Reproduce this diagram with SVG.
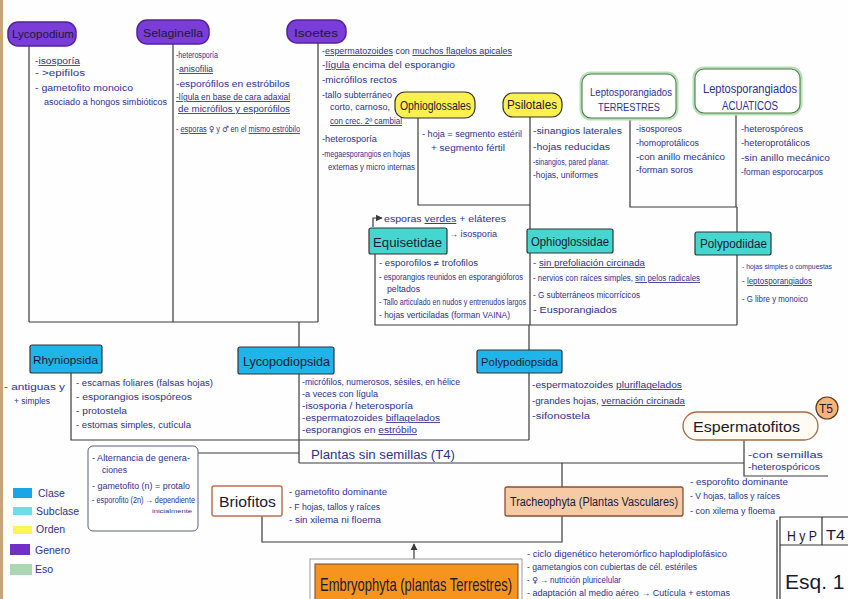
<svg xmlns="http://www.w3.org/2000/svg" width="848" height="599" viewBox="0 0 848 599">
<style>
.ink{font-family:"Liberation Sans",Arial,sans-serif;font-size:8.5px;fill:#2d3190}
.lab{font-family:"Liberation Sans",Arial,sans-serif;fill:#1a1a33}
.sym{font-family:"DejaVu Sans",sans-serif}
.u{text-decoration:underline}
.ln{stroke:#3a3a3a;stroke-width:1.2;fill:none}
.gen{fill:#7b3dd8;stroke:#55229e;stroke-width:1.5}
.ord{fill:#fbf04e;stroke:#333;stroke-width:1.2}
.cls{fill:#1fb4ea;stroke:#333;stroke-width:1.2}
.sub{fill:#46d6d0;stroke:#333;stroke-width:1.2}
.eso{fill:#fff;stroke:#4f7f4f;stroke-width:1.1}
.glow{fill:none;stroke:#b5dfb5;stroke-width:5}
</style>
<defs>
<marker id="ah" viewBox="0 0 10 10" refX="9" refY="5" markerWidth="6" markerHeight="6" orient="auto-start-reverse">
<path d="M0,0 L10,5 L0,10 z" fill="#3a3a3a"/>
</marker>
</defs>
<rect width="848" height="599" fill="#fefefe"/>
<rect x="0" y="0" width="3" height="599" fill="#c9a27a"/>

<g id="connectors" class="ln">
<path d="M29,46 V322 M173,44 V322 M318,43 V322 M29,322 H318 M299,322 V347"/>
<path d="M299,374 V463"/>
<path d="M71,373 V440 H529 M529,325 V350 M529,373 V440"/>
<path d="M375,254 V325 H737 M530,117 V229 M530,253 V325"/>
<path d="M418,118 V205 H530"/>
<path d="M737,207 V232 M737,255 V325 M630,118 V207 H737 M736,113 V207"/>
<path d="M198,453 H299 M299,463 H744"/>
<path d="M744,440 V476 H828"/>
<path d="M562,463 V487 M562,516 V542 H262 V516"/>
<path d="M414,562 V544" marker-end="url(#ah)"/>
<path d="M373,227 V218 H382" marker-end="url(#ah)"/>
</g>

<g id="lycopodium">
<rect class="gen" x="8" y="22" width="68" height="24" rx="10"/>
<text class="lab" x="12" y="38" font-size="11" textLength="62" lengthAdjust="spacingAndGlyphs">Lycopodium</text>
<text class="ink" x="35" y="64" textLength="45" lengthAdjust="spacingAndGlyphs">-<tspan class="u">isosporía</tspan></text>
<text class="ink" x="35" y="76" textLength="50" lengthAdjust="spacingAndGlyphs">- &gt;epifilos</text>
<text class="ink" x="35" y="91" textLength="98" lengthAdjust="spacingAndGlyphs">- gametofito   monoico</text>
<text class="ink" x="44" y="105" textLength="123" lengthAdjust="spacingAndGlyphs">asociado a hongos simbióticos</text>
</g>

<g id="selaginella">
<rect class="gen" x="137" y="20" width="72" height="24" rx="10"/>
<text class="lab" x="143" y="37" font-size="11" textLength="60" lengthAdjust="spacingAndGlyphs">Selaginella</text>
<text class="ink" x="176" y="58" textLength="42" lengthAdjust="spacingAndGlyphs">-heterosporía</text>
<text class="ink" x="176" y="72" textLength="37" lengthAdjust="spacingAndGlyphs">-<tspan class="u">anisofilia</tspan></text>
<text class="ink" x="176" y="87" textLength="114" lengthAdjust="spacingAndGlyphs">-esporófilos en estróbilos</text>
<text class="ink u" x="176" y="100" textLength="114" lengthAdjust="spacingAndGlyphs">-lígula en base de cara adaxial</text>
<text class="ink u" x="178" y="112" textLength="112" lengthAdjust="spacingAndGlyphs">de micrófilos y esporófilos</text>
<text class="ink" x="176" y="132" textLength="124" lengthAdjust="spacingAndGlyphs">- <tspan class="u">esporas</tspan> <tspan class="sym">♀︎</tspan> y <tspan class="sym">♂︎</tspan> en el <tspan class="u">mismo estróbilo</tspan></text>
</g>

<g id="isoetes">
<rect class="gen" x="287" y="20" width="59" height="23" rx="10"/>
<text class="lab" x="294" y="37" font-size="11" textLength="44" lengthAdjust="spacingAndGlyphs">Isoetes</text>
<text class="ink" x="322" y="54" textLength="190" lengthAdjust="spacingAndGlyphs">-<tspan class="u">espermatozoides</tspan>  con  <tspan class="u">muchos flagelos apicales</tspan></text>
<text class="ink" x="322" y="68" textLength="133" lengthAdjust="spacingAndGlyphs">-<tspan class="u">lígula</tspan> encima del esporangio</text>
<text class="ink" x="322" y="83" textLength="75" lengthAdjust="spacingAndGlyphs">-micrófilos rectos</text>
<text class="ink" x="322" y="98" textLength="70" lengthAdjust="spacingAndGlyphs">-tallo subterráneo</text>
<text class="ink" x="330" y="110" textLength="60" lengthAdjust="spacingAndGlyphs">corto, carnoso,</text>
<text class="ink u" x="330" y="124" textLength="72" lengthAdjust="spacingAndGlyphs">con crec. 2º cambial</text>
<text class="ink" x="322" y="142" textLength="55" lengthAdjust="spacingAndGlyphs">-heterosporía</text>
<text class="ink" x="322" y="157" textLength="88" lengthAdjust="spacingAndGlyphs">-megaesporangios en hojas</text>
<text class="ink" x="328" y="170" textLength="87" lengthAdjust="spacingAndGlyphs">externas y micro internas</text>
</g>

<g id="ophioglossales">
<rect class="ord" x="395" y="92" width="80" height="26" rx="10"/>
<text class="lab" x="400" y="110" font-size="13" textLength="71" lengthAdjust="spacingAndGlyphs">Ophioglossales</text>
<text class="ink" x="422" y="137" textLength="100" lengthAdjust="spacingAndGlyphs">- hoja = segmento estéril</text>
<text class="ink" x="431" y="151" textLength="74" lengthAdjust="spacingAndGlyphs">+ segmento fértil</text>
</g>

<g id="psilotales">
<rect class="ord" x="503" y="93" width="59" height="24" rx="10"/>
<text class="lab" x="507" y="109" font-size="13" textLength="50" lengthAdjust="spacingAndGlyphs">Psilotales</text>
<text class="ink" x="533" y="134" textLength="89" lengthAdjust="spacingAndGlyphs">-sinangios laterales</text>
<text class="ink" x="533" y="150" textLength="77" lengthAdjust="spacingAndGlyphs">-hojas reducidas</text>
<text class="ink" x="533" y="165" textLength="76" lengthAdjust="spacingAndGlyphs">-sinangios, pared planar.</text>
<text class="ink" x="533" y="178" textLength="65" lengthAdjust="spacingAndGlyphs">-hojas, uniformes</text>
</g>

<g id="lepto-terrestres">
<rect class="glow" x="582" y="74" width="94" height="44" rx="9"/>
<rect class="eso" x="582" y="74" width="94" height="44" rx="9"/>
<text class="ink" x="590" y="96" style="font-size:11px" textLength="82" lengthAdjust="spacingAndGlyphs">Leptosporangiados</text>
<text class="ink" x="598" y="111" style="font-size:11px" textLength="62" lengthAdjust="spacingAndGlyphs">TERRESTRES</text>
<text class="ink" x="636" y="132" textLength="46" lengthAdjust="spacingAndGlyphs">-isosporeos</text>
<text class="ink" x="636" y="146" textLength="63" lengthAdjust="spacingAndGlyphs">-homoprotálicos</text>
<text class="ink" x="636" y="160" textLength="89" lengthAdjust="spacingAndGlyphs">-con anillo mecánico</text>
<text class="ink" x="636" y="173" textLength="57" lengthAdjust="spacingAndGlyphs">-forman soros</text>
</g>

<g id="lepto-acuaticos">
<rect class="glow" x="695" y="69" width="105" height="44" rx="9"/>
<rect class="eso" x="695" y="69" width="105" height="44" rx="9"/>
<text class="ink" x="703" y="93" style="font-size:12px" textLength="94" lengthAdjust="spacingAndGlyphs">Leptosporangiados</text>
<text class="ink" x="722" y="110" style="font-size:12px" textLength="56" lengthAdjust="spacingAndGlyphs">ACUATICOS</text>
<text class="ink" x="741" y="132" textLength="62" lengthAdjust="spacingAndGlyphs">-heterospóreos</text>
<text class="ink" x="741" y="146" textLength="69" lengthAdjust="spacingAndGlyphs">-heteroprotálicos</text>
<text class="ink" x="741" y="161" textLength="89" lengthAdjust="spacingAndGlyphs">-sin anillo mecánico</text>
<text class="ink" x="741" y="175" textLength="82" lengthAdjust="spacingAndGlyphs">-forman esporocarpos</text>
</g>

<g id="equisetidae">
<rect class="sub" x="369" y="228" width="78" height="26" rx="2"/>
<text class="lab" x="373" y="247" font-size="13" textLength="69" lengthAdjust="spacingAndGlyphs">Equisetidae</text>
<text class="ink" x="384" y="222" style="font-size:9.5px" textLength="122" lengthAdjust="spacingAndGlyphs">esporas <tspan class="u">verdes</tspan> + eláteres</text>
<text class="ink" x="449" y="237" textLength="48" lengthAdjust="spacingAndGlyphs">→ isosporia</text>
<text class="ink" x="379" y="266" textLength="99" lengthAdjust="spacingAndGlyphs">- esporofilos ≠ trofofilos</text>
<text class="ink" x="379" y="280" textLength="144" lengthAdjust="spacingAndGlyphs">- esporangios reunidos en esporangióforos</text>
<text class="ink" x="387" y="292" textLength="33" lengthAdjust="spacingAndGlyphs">peltados</text>
<text class="ink" x="379" y="305" textLength="147" lengthAdjust="spacingAndGlyphs">- Tallo articulado en nudos y entrenudos largos</text>
<text class="ink" x="379" y="318" textLength="131" lengthAdjust="spacingAndGlyphs">- hojas verticiladas (forman VAINA)</text>
</g>

<g id="ophioglossidae">
<rect class="sub" x="527" y="229" width="86" height="24" rx="2"/>
<text class="lab" x="531" y="246" font-size="13" textLength="78" lengthAdjust="spacingAndGlyphs">Ophioglossidae</text>
<text class="ink" x="533" y="266" textLength="112" lengthAdjust="spacingAndGlyphs">- <tspan class="u">sin prefoliación circinada</tspan></text>
<text class="ink" x="533" y="281" textLength="167" lengthAdjust="spacingAndGlyphs">- nervios con raíces simples, <tspan class="u">sin pelos radicales</tspan></text>
<text class="ink" x="533" y="298" textLength="107" lengthAdjust="spacingAndGlyphs">- G subterráneos micorrícicos</text>
<text class="ink" x="533" y="313" textLength="84" lengthAdjust="spacingAndGlyphs">- Eusporangiados</text>
</g>

<g id="polypodiidae">
<rect class="sub" x="695" y="232" width="76" height="23" rx="2"/>
<text class="lab" x="700" y="248" font-size="12" textLength="67" lengthAdjust="spacingAndGlyphs">Polypodiidae</text>
<text class="ink" x="742" y="269" style="font-size:7.3px" textLength="90" lengthAdjust="spacingAndGlyphs">- hojas simples o compuestas</text>
<text class="ink" x="742" y="284" textLength="70" lengthAdjust="spacingAndGlyphs">- <tspan class="u">leptosporangiados</tspan></text>
<text class="ink" x="742" y="302" textLength="66" lengthAdjust="spacingAndGlyphs">- G libre y monoico</text>
</g>

<g id="rhyniopsida">
<rect class="cls" x="30" y="345" width="72" height="28" rx="2"/>
<text class="lab" x="33" y="364" font-size="11" textLength="65" lengthAdjust="spacingAndGlyphs">Rhyniopsida</text>
<text class="ink" x="4" y="390" textLength="61" lengthAdjust="spacingAndGlyphs">- antiguas y</text>
<text class="ink" x="14" y="404" textLength="36" lengthAdjust="spacingAndGlyphs">+ simples</text>
<text class="ink" x="76" y="386" textLength="137" lengthAdjust="spacingAndGlyphs">- escamas foliares (falsas hojas)</text>
<text class="ink" x="76" y="400" textLength="116" lengthAdjust="spacingAndGlyphs">- esporangios isospóreos</text>
<text class="ink" x="76" y="414" textLength="51" lengthAdjust="spacingAndGlyphs">- protostela</text>
<text class="ink" x="76" y="428" textLength="115" lengthAdjust="spacingAndGlyphs">- estomas simples, cutícula</text>
</g>

<g id="lycopodiopsida">
<rect class="cls" x="238" y="347" width="96" height="27" rx="2"/>
<text class="lab" x="243" y="366" font-size="13" textLength="87" lengthAdjust="spacingAndGlyphs">Lycopodiopsida</text>
<text class="ink" x="302" y="385" textLength="158" lengthAdjust="spacingAndGlyphs">-micrófilos, numerosos, sésiles, en hélice</text>
<text class="ink" x="302" y="397" textLength="76" lengthAdjust="spacingAndGlyphs">-a veces con lígula</text>
<text class="ink" x="302" y="409" textLength="111" lengthAdjust="spacingAndGlyphs">-isosporia / heterosporía</text>
<text class="ink" x="302" y="421" textLength="138" lengthAdjust="spacingAndGlyphs">-espermatozoides <tspan class="u">biflagelados</tspan></text>
<text class="ink" x="302" y="433" textLength="115" lengthAdjust="spacingAndGlyphs">-esporangios en <tspan class="u">estróbilo</tspan></text>
</g>

<g id="polypodiopsida">
<rect class="cls" x="477" y="350" width="85" height="23" rx="2"/>
<text class="lab" x="481" y="366" font-size="11" textLength="77" lengthAdjust="spacingAndGlyphs">Polypodiopsida</text>
<text class="ink" x="532" y="388" textLength="150" lengthAdjust="spacingAndGlyphs">-espermatozoides <tspan class="u">pluriflagelados</tspan></text>
<text class="ink" x="532" y="404" textLength="153" lengthAdjust="spacingAndGlyphs">-grandes hojas, <tspan class="u">vernación circinada</tspan></text>
<text class="ink" x="532" y="419" textLength="58" lengthAdjust="spacingAndGlyphs">-sifonostela</text>
</g>

<g id="plantas-sin-semillas">
<text class="ink" x="311" y="459" style="font-size:12.5px" textLength="144" lengthAdjust="spacingAndGlyphs">Plantas sin semillas (T4)</text>
</g>

<g id="alternancia">
<rect x="88" y="446" width="110" height="85" rx="5" fill="#fff" stroke="#55607a" stroke-width="1"/>
<text class="ink" x="92" y="461" textLength="98" lengthAdjust="spacingAndGlyphs">- Alternancia de genera-</text>
<text class="ink" x="102" y="473" textLength="25" lengthAdjust="spacingAndGlyphs">ciones</text>
<text class="ink" x="92" y="489" textLength="98" lengthAdjust="spacingAndGlyphs">- gametofito (n) = protalo</text>
<text class="ink" x="92" y="503" textLength="103" lengthAdjust="spacingAndGlyphs">- esporofito (2n) → dependiente</text>
<text class="ink" x="152" y="513" style="font-size:6px" textLength="40" lengthAdjust="spacingAndGlyphs">inicialmente</text>
</g>

<g id="espermatofitos">
<rect x="683" y="412" width="135" height="28" rx="14" fill="#fffaf2" stroke="#a86a46" stroke-width="1.3"/>
<text class="lab" x="693" y="432" font-size="15" fill="#333" textLength="107" lengthAdjust="spacingAndGlyphs">Espermatofitos</text>
<text class="ink" x="748" y="458" textLength="75" lengthAdjust="spacingAndGlyphs">-con semillas</text>
<text class="ink" x="748" y="470" textLength="72" lengthAdjust="spacingAndGlyphs">-heterospóricos</text>
<circle cx="827" cy="408" r="11" fill="#f6b574" stroke="#5a3a20" stroke-width="1.2"/>
<text class="lab" x="819" y="413" font-size="12">T5</text>
</g>

<g id="tracheophyta">
<rect x="505" y="487" width="178" height="29" rx="2" fill="#f7caa6" stroke="#8a5030" stroke-width="1.3"/>
<text class="lab" x="510" y="506" font-size="12" fill="#4a2410" textLength="168" lengthAdjust="spacingAndGlyphs">Tracheophyta (Plantas Vasculares)</text>
<text class="ink" x="690" y="485" textLength="98" lengthAdjust="spacingAndGlyphs">- esporofito dominante</text>
<text class="ink" x="690" y="499" textLength="90" lengthAdjust="spacingAndGlyphs">- V hojas, tallos y raíces</text>
<text class="ink" x="690" y="514" textLength="85" lengthAdjust="spacingAndGlyphs">- con xilema y floema</text>
</g>

<g id="briofitos">
<rect x="212" y="486" width="70" height="30" rx="2" fill="#fff" stroke="#c07050" stroke-width="1.5"/>
<text class="lab" x="219" y="507" font-size="15" textLength="57" lengthAdjust="spacingAndGlyphs">Briofitos</text>
<text class="ink" x="289" y="495" textLength="98" lengthAdjust="spacingAndGlyphs">- gametofito dominante</text>
<text class="ink" x="289" y="510" textLength="91" lengthAdjust="spacingAndGlyphs">- F hojas, tallos y raíces</text>
<text class="ink" x="289" y="523" textLength="92" lengthAdjust="spacingAndGlyphs">- sin xilema ni floema</text>
</g>

<g id="embryophyta">
<rect x="310" y="559" width="212" height="42" fill="#fff" stroke="#999" stroke-width="1"/>
<rect x="315" y="564" width="203" height="37" fill="#f7941d" stroke="#6a4a2a" stroke-width="1"/>
<text class="lab" x="320" y="591" font-size="19" textLength="192" lengthAdjust="spacingAndGlyphs">Embryophyta (plantas Terrestres)</text>
<text class="ink" x="527" y="557" textLength="200" lengthAdjust="spacingAndGlyphs">- ciclo digenético heteromórfico haplodiplofásico</text>
<text class="ink" x="527" y="570" textLength="170" lengthAdjust="spacingAndGlyphs">- gametangios con cubiertas de cél. estériles</text>
<text class="ink" x="527" y="583" textLength="94" lengthAdjust="spacingAndGlyphs">- <tspan class="sym">♀︎</tspan> → nutrición pluricelular</text>
<text class="ink" x="527" y="596" textLength="203" lengthAdjust="spacingAndGlyphs">- adaptación al medio aéreo → Cutícula + estomas</text>
</g>

<g id="legend">
<rect x="13" y="488" width="19" height="10" fill="#1aa6e4"/>
<text class="ink" x="38" y="497" style="font-size:10.5px">Clase</text>
<rect x="13" y="507" width="19" height="8" fill="#6fdcec"/>
<text class="ink" x="36" y="515" style="font-size:10.5px">Subclase</text>
<rect x="13" y="526" width="19" height="8" fill="#fff35a"/>
<text class="ink" x="36" y="533" style="font-size:10.5px">Orden</text>
<rect x="10" y="544" width="20" height="11" fill="#7030c8"/>
<text class="ink" x="35" y="554" style="font-size:10.5px">Genero</text>
<rect x="10" y="564" width="22" height="11" fill="#a9d7b2"/>
<text class="ink" x="35" y="573" style="font-size:10.5px">Eso</text>
</g>

<g id="hyp-t4">
<path d="M780,599 V517 H848 M822,517 V545 M780,545 H848 M777,599 V520" fill="none" stroke="#333" stroke-width="1.2"/>
<text class="lab" x="787" y="541" font-size="15" textLength="30" lengthAdjust="spacingAndGlyphs">H y P</text>
<text class="lab" x="826" y="540" font-size="15" textLength="19" lengthAdjust="spacingAndGlyphs">T4</text>
<text class="lab" x="785" y="589" font-size="21">Esq. 1</text>
</g>
</svg>
